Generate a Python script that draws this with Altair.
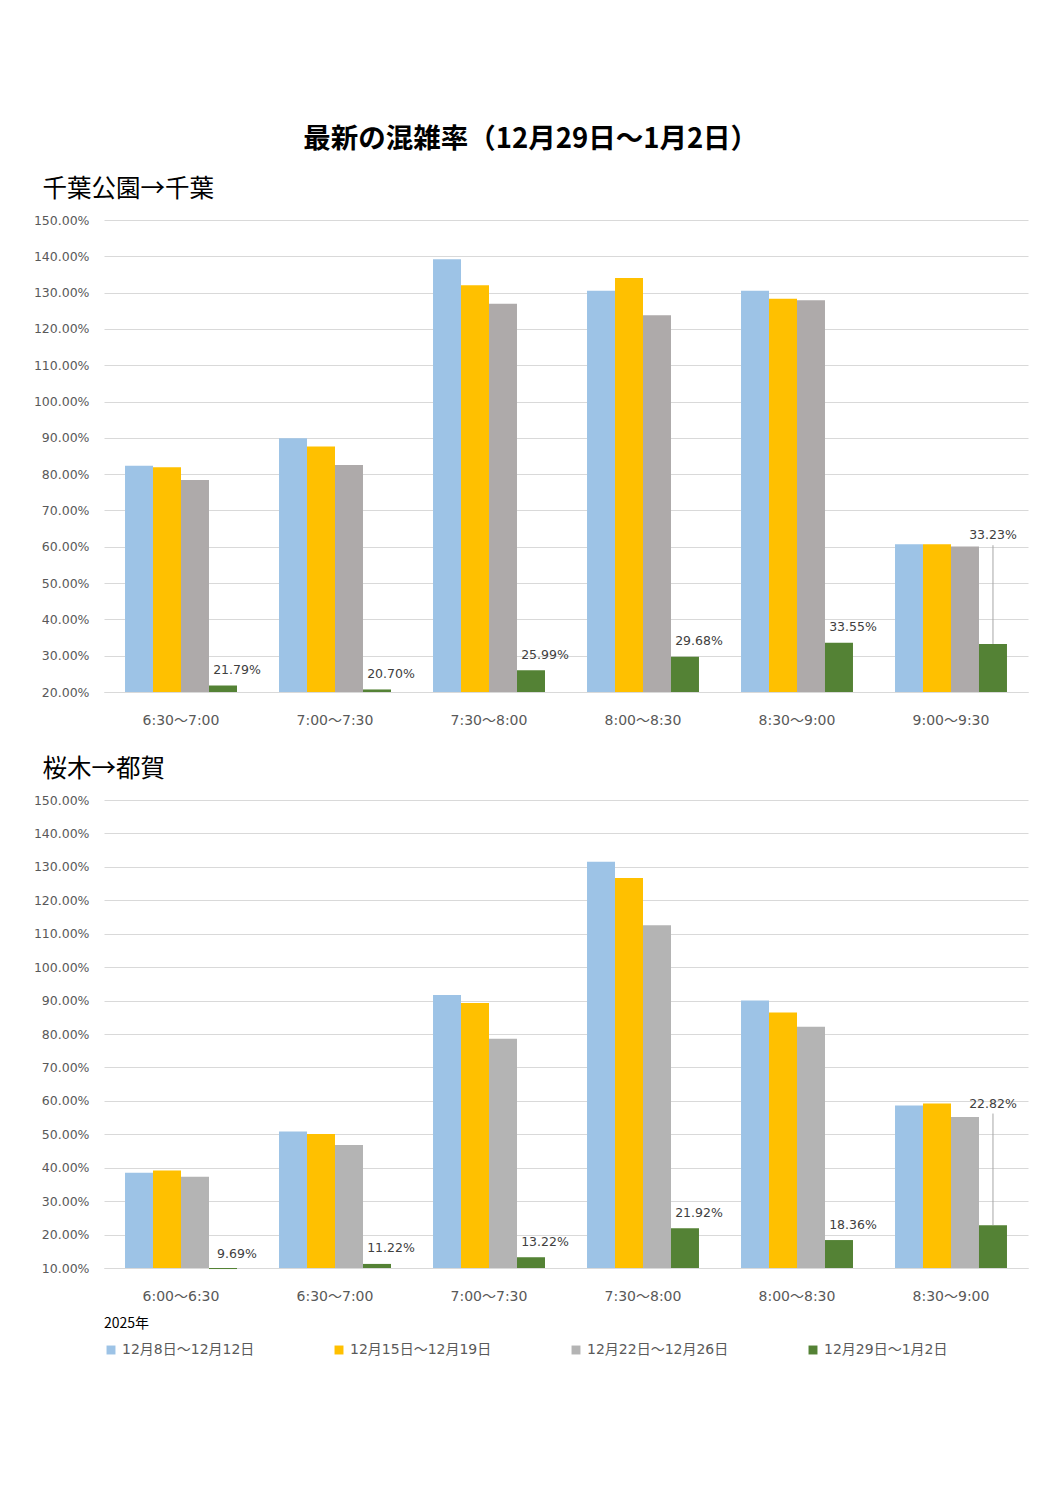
import altair as alt
import pandas as pd

series = ["12月8日～12月12日", "12月15日～12月19日", "12月22日～12月26日", "12月29日～1月2日"]

# 千葉公園→千葉
slots1 = ["6:30～7:00", "7:00～7:30", "7:30～8:00", "8:00～8:30", "8:30～9:00", "9:00～9:30"]
p1_s1 = [0.823, 0.899, 1.392, 1.305, 1.305, 0.607]
p1_s2 = [0.819, 0.876, 1.320, 1.340, 1.283, 0.607]
p1_s3 = [0.784, 0.825, 1.269, 1.238, 1.279, 0.601]
p1_s4 = [0.2179, 0.2070, 0.2599, 0.2968, 0.3355, 0.3323]
ticks1 = [0.2, 0.3, 0.4, 0.5, 0.6, 0.7, 0.8, 0.9, 1.0, 1.1, 1.2, 1.3, 1.4, 1.5]

# 桜木→都賀
slots2 = ["6:00～6:30", "6:30～7:00", "7:00～7:30", "7:30～8:00", "8:00～8:30", "8:30～9:00"]
p2_s1 = [0.385, 0.508, 0.917, 1.315, 0.900, 0.586]
p2_s2 = [0.392, 0.501, 0.893, 1.267, 0.864, 0.592]
p2_s3 = [0.373, 0.468, 0.786, 1.125, 0.822, 0.552]
p2_s4 = [0.0969, 0.1122, 0.1322, 0.2192, 0.1836, 0.2282]
ticks2 = [0.1, 0.2, 0.3, 0.4, 0.5, 0.6, 0.7, 0.8, 0.9, 1.0, 1.1, 1.2, 1.3, 1.4, 1.5]

colors1 = ["#9DC3E6", "#FFC000", "#AEAAAA", "#548235"]
colors2 = ["#9DC3E6", "#FFC000", "#B4B4B4", "#548235"]

NUM_FONT = "DejaVu Sans, Noto Sans CJK JP"
CJK_FONT = "Noto Sans CJK JP"


def panel(title, slots, vals, base, ticks, colors, height, lead_dy, show_legend):
    rows = []
    for si, s in enumerate(series):
        for k, slot in enumerate(slots):
            rows.append({"slot": slot, "series": s, "v": vals[si][k]})
    df = pd.DataFrame(rows)
    green = df[df.series == series[3]].copy()
    others_last = df[(df.slot == slots[-1]) & (df.series != series[3])]
    normal = green[green.slot != slots[-1]]
    last = green[green.slot == slots[-1]].copy()
    last["lead"] = others_last.v.max()

    x = alt.X("slot:N", sort=slots, title=None,
              scale=alt.Scale(domain=slots, paddingInner=0.273, paddingOuter=0.1365),
              axis=alt.Axis(labelAngle=0, labelFontSize=14, labelColor="#595959",
                            labelFont=NUM_FONT, labelPadding=21, ticks=False,
                            domain=True, domainColor="#D9D9D9", grid=False))
    xo = alt.XOffset("series:N", sort=series,
                     scale=alt.Scale(domain=series, paddingInner=0, paddingOuter=0))
    yscale = alt.Scale(domain=[base, 1.5], nice=False, zero=False)
    yaxis = alt.Axis(values=ticks, format=".2%", labelFontSize=12.5,
                     labelColor="#595959", labelFont=NUM_FONT, labelPadding=15,
                     labelOverlap=False, labelFlush=False,
                     ticks=False, domain=False, grid=True, gridColor="#D9D9D9")
    y = alt.Y("v:Q", title=None, scale=yscale, axis=yaxis)
    y_lead = alt.Y("lead:Q", title=None, scale=yscale, axis=yaxis)

    if show_legend:
        legend = alt.Legend(title="2025年", orient="bottom", direction="horizontal",
                            titleFontSize=14, titleFontWeight="normal", titleColor="#000000",
                            titleFont=CJK_FONT, labelFontSize=14, labelColor="#595959",
                            labelFont=NUM_FONT, symbolType="square", symbolSize=80,
                            symbolStrokeWidth=0, columnPadding=77, offset=14,
                            titlePadding=12)
    else:
        legend = None

    color = alt.Color("series:N", sort=series,
                      scale=alt.Scale(domain=series, range=colors), legend=legend)

    bars = alt.Chart(df).mark_bar().encode(
        x=x, xOffset=xo, y=y, y2=alt.datum(base), color=color)

    labels = alt.Chart(normal).mark_text(
        dx=14, dy=-15.5, baseline="middle", fontSize=12.5, color="#404040", font=NUM_FONT
    ).encode(x=x, xOffset=xo, y=y, text=alt.Text("v:Q", format=".2%"))

    lead_rule = alt.Chart(last).mark_rule(color="#A6A6A6", strokeWidth=1,
                                          y2Offset=lead_dy + 10).encode(
        x=x, xOffset=xo, y=y, y2="lead:Q")

    lead_label = alt.Chart(last).mark_text(
        dy=lead_dy, baseline="middle", fontSize=12.5, color="#404040", font=NUM_FONT
    ).encode(x=x, xOffset=xo, y=y_lead, text=alt.Text("v:Q", format=".2%"))

    return alt.layer(bars, labels, lead_rule, lead_label).properties(
        width=924, height=height,
        title=alt.TitleParams(title, anchor="start", frame="bounds", fontSize=24.5,
                              fontWeight="normal", font=CJK_FONT, color="#000000",
                              dx=9, offset=12),
    )


p1 = panel("千葉公園→千葉", slots1, [p1_s1, p1_s2, p1_s3, p1_s4], 0.2, ticks1,
           colors1, 472, -9, False)
p2 = panel("桜木→都賀", slots2, [p2_s1, p2_s2, p2_s3, p2_s4], 0.1, ticks2,
           colors2, 468, 0, True)

chart = alt.vconcat(p1, p2, spacing=29).resolve_scale(
    x="independent", y="independent", color="independent"
).properties(
    title=alt.TitleParams("最新の混雑率（12月29日～1月2日）", anchor="middle", fontSize=27.5,
                          fontWeight="bold", font=CJK_FONT, color="#000000", offset=23),
    padding={"left": 25, "top": 118, "right": 10, "bottom": 10},
).configure_view(stroke=None)

chart.save("out.html", embed_options={"renderer": "svg", "actions": False})
